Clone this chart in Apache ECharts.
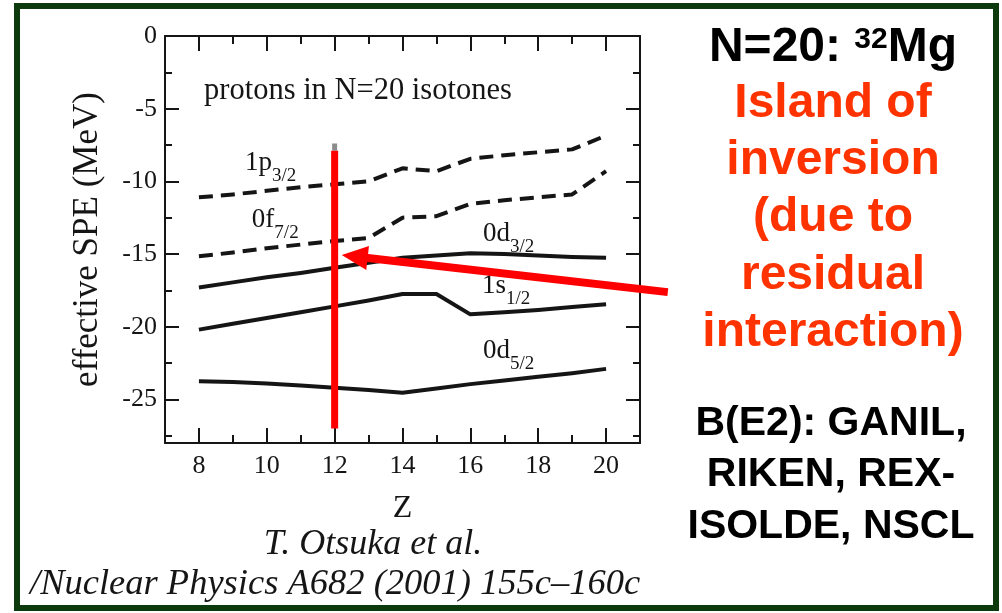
<!DOCTYPE html>
<html>
<head>
<meta charset="utf-8">
<script src="https://cdn.jsdelivr.net/npm/echarts@6/dist/echarts.min.js"></script>
<style>
  html, body { margin: 0; padding: 0; background: #fff; }
  #c { width: 1002px; height: 613px; }
</style>
</head>
<body>
<div id="c"></div>
<script>
// Proton effective single-particle energies (MeV) for N=20 isotones, by Z
const Z = [8, 9, 10, 11, 12, 13, 14, 15, 16, 17, 18, 19, 20];
const p3_2 = [-11.1, -10.9, -10.65, -10.4, -10.2, -10.0, -9.1, -9.3, -8.45, -8.2, -8.0, -7.8, -6.85];
const f7_2 = [-15.15, -14.9, -14.6, -14.35, -14.1, -13.9, -12.5, -12.4, -11.55, -11.3, -11.1, -10.9, -9.3];
const d3_2 = [-17.3, -16.95, -16.6, -16.3, -15.95, -15.6, -15.25, -15.1, -14.95, -15.0, -15.1, -15.2, -15.25];
const s1_2 = [-20.2, -19.8, -19.4, -19.0, -18.6, -18.2, -17.75, -17.75, -19.15, -19.0, -18.85, -18.65, -18.45];
const d5_2 = [-23.75, -23.8, -23.9, -24.05, -24.2, -24.35, -24.55, -24.25, -23.95, -23.7, -23.45, -23.2, -22.9];

// Axis ticks
const xMajor = [8, 10, 12, 14, 16, 18, 20];
const xMinor = [9, 11, 13, 15, 17, 19];
const yMajor = [0, -5, -10, -15, -20, -25];
const yMinor = [-2.5, -7.5, -12.5, -17.5, -22.5, -27.5];

// 32Mg (Z=12) marker and the arrow pointing at its 0d3/2 level
const mgZ = 12;
const mgSpan = [-7.9, -27.0];
const mgCap = [-7.4, -7.9];
const arrowTip = [12.21, -15.07];
const arrowTail = [21.82, -17.62];

const serif = '"Liberation Serif", "Times New Roman", serif';
const sans = '"Liberation Sans", Arial, sans-serif';
const ink = '#151515';

const chart = echarts.init(document.getElementById('c'), null, { renderer: 'canvas' });

const pts = ys => Z.map((z, i) => [z, ys[i]]);

function xAx(position, ticks, len, labelled) {
  return {
    type: 'value', min: 7, max: 21, position,
    axisLine: { show: len > 10, onZero: false, lineStyle: { color: ink, width: 2 } },
    axisTick: { show: true, inside: true, length: len, customValues: ticks, lineStyle: { color: ink, width: 2 } },
    axisLabel: labelled
      ? { show: true, customValues: ticks, fontFamily: serif, fontSize: 26, color: ink, margin: 10 }
      : { show: false },
    splitLine: { show: false },
    ...(labelled ? {
      name: 'Z', nameLocation: 'middle', nameGap: 50,
      nameTextStyle: { fontFamily: serif, fontSize: 32, color: ink }
    } : {})
  };
}
function yAx(position, ticks, len, labelled) {
  return {
    type: 'value', min: -28, max: 0, position,
    axisLine: { show: len > 10, onZero: false, lineStyle: { color: ink, width: 2 } },
    axisTick: { show: true, inside: true, length: len, customValues: ticks, lineStyle: { color: ink, width: 2 } },
    axisLabel: labelled
      ? { show: true, customValues: ticks, fontFamily: serif, fontSize: 26, color: ink, margin: 8 }
      : { show: false },
    splitLine: { show: false },
    ...(labelled ? {
      name: 'effective SPE (MeV)', nameLocation: 'middle', nameGap: 60, nameRotate: 90,
      nameTextStyle: { fontFamily: serif, fontSize: 35, color: ink }
    } : {})
  };
}

function level(name, ys, dashed) {
  return {
    name, type: 'line', xAxisIndex: 0, yAxisIndex: 0,
    data: pts(ys), symbol: 'none', showSymbol: false, silent: true,
    lineStyle: { color: ink, width: 4, type: dashed ? [14, 8] : 'solid', cap: 'butt', join: 'round' },
    z: 3
  };
}

chart.setOption({
  animation: false,
  backgroundColor: '#ffffff',
  grid: { left: 165, top: 36, width: 475, height: 407, containLabel: false },
  xAxis: [xAx('bottom', xMajor, 15, true), xAx('bottom', xMinor, 8, false),
          xAx('top', xMajor, 15, false), xAx('top', xMinor, 8, false)],
  yAxis: [yAx('left', yMajor, 14, true), yAx('left', yMinor, 7, false),
          yAx('right', yMajor, 14, false), yAx('right', yMinor, 7, false)],
  series: [
    level('1p3/2', p3_2, true),
    level('0f7/2', f7_2, true),
    level('0d3/2', d3_2, false),
    level('1s1/2', s1_2, false),
    level('0d5/2', d5_2, false),
    {
      name: 'Mg cap', type: 'line', xAxisIndex: 0, yAxisIndex: 0, symbol: 'none', silent: true,
      data: mgCap.map(v => [mgZ, v]), lineStyle: { color: '#8c8c8c', width: 5, cap: 'butt' }, z: 5
    },
    {
      name: '32Mg', type: 'line', xAxisIndex: 0, yAxisIndex: 0, symbol: 'none', silent: true,
      data: mgSpan.map(v => [mgZ, v]), lineStyle: { color: '#ff0000', width: 7, cap: 'butt' }, z: 5
    }
  ]
});

// ---- annotations -------------------------------------------------------
const measure = (() => {
  const ctx = document.createElement('canvas').getContext('2d');
  return (txt, font) => { ctx.font = font; return ctx.measureText(txt).width; };
})();
const px = d => chart.convertToPixel({ xAxisIndex: 0, yAxisIndex: 0 }, d);

const g = [];

// outer frame
g.push({
  type: 'rect', shape: { x: 17, y: 6, width: 979, height: 602 },
  style: { fill: 'none', stroke: '#0c3a0c', lineWidth: 6 }, z: 10
});

// orbital labels with subscripts, anchored in data coordinates
const orbitals = [
  ['1p', '3/2', [9.36, -8.72]],
  ['0f', '7/2', [9.56, -12.66]],
  ['0d', '3/2', [16.37, -13.59]],
  ['1s', '1/2', [16.34, -17.21]],
  ['0d', '5/2', [16.37, -21.69]]
];
orbitals.forEach(([main, sub, at]) => {
  const p = px(at);
  const mainFont = '27px ' + serif;
  const w = measure(main, mainFont);
  g.push({
    type: 'text', x: p[0], y: p[1], z: 6,
    style: { text: main, font: mainFont, fill: ink, align: 'left', verticalAlign: 'middle' }
  });
  g.push({
    type: 'text', x: p[0] + w, y: p[1] + 13, z: 6,
    style: { text: sub, font: '19px ' + serif, fill: ink, align: 'left', verticalAlign: 'middle' }
  });
});
{
  const p = px([8.15, -3.76]);
  g.push({
    type: 'text', x: p[0], y: p[1], z: 6,
    style: { text: 'protons in N=20 isotones', font: '30.5px ' + serif, fill: ink, align: 'left', verticalAlign: 'middle' }
  });
}

// arrow toward the 0d3/2 level at Z=12
{
  const tip = px(arrowTip), tail = px(arrowTail);
  const dx = tip[0] - tail[0], dy = tip[1] - tail[1];
  const L = Math.hypot(dx, dy), ux = dx / L, uy = dy / L;
  const headLen = 26, headHalf = 12;
  const bx = tip[0] - ux * headLen, by = tip[1] - uy * headLen;
  g.push({
    type: 'line', z: 7,
    shape: { x1: tail[0], y1: tail[1], x2: bx + ux * 2, y2: by + uy * 2 },
    style: { stroke: '#ff0000', lineWidth: 8, lineCap: 'butt' }
  });
  g.push({
    type: 'polygon', z: 7,
    shape: { points: [tip, [bx - uy * headHalf, by + ux * headHalf], [bx + uy * headHalf, by - ux * headHalf]] },
    style: { fill: '#ff0000' }
  });
}

// citation under the plot
g.push({
  type: 'text', x: 373, y: 545, z: 6,
  style: { text: 'T. Otsuka et al.', font: 'italic 36px ' + serif, fill: ink, align: 'center', verticalAlign: 'middle' }
});
g.push({
  type: 'text', x: 30, y: 584, z: 6,
  style: { text: '/Nuclear Physics A682 (2001) 155c\u2013160c', font: 'italic 36.5px ' + serif, fill: ink, align: 'left', verticalAlign: 'middle' }
});

// right-hand text block
{
  const cx = 833;
  const bigFont = 'bold 48px ' + sans;
  const supFont = 'bold 30px ' + sans;
  const a = 'N=20: ', s = '32', b = 'Mg';
  const wa = measure(a, bigFont), ws = measure(s, supFont), wb = measure(b, bigFont);
  const x0 = cx - (wa + ws + wb) / 2;
  g.push({ type: 'text', x: x0, y: 48, z: 6, style: { text: a, font: bigFont, fill: '#000', align: 'left', verticalAlign: 'middle' } });
  g.push({ type: 'text', x: x0 + wa, y: 40, z: 6, style: { text: s, font: supFont, fill: '#000', align: 'left', verticalAlign: 'middle' } });
  g.push({ type: 'text', x: x0 + wa + ws, y: 48, z: 6, style: { text: b, font: bigFont, fill: '#000', align: 'left', verticalAlign: 'middle' } });

  const redLines = ['Island of', 'inversion', '(due to', 'residual', 'interaction)'];
  const redY = [104, 161, 218, 276, 333];
  redLines.forEach((t, i) => g.push({
    type: 'text', x: cx, y: redY[i], z: 6,
    style: { text: t, font: bigFont, fill: '#ff3300', align: 'center', verticalAlign: 'middle' }
  }));

  const labs = ['B(E2): GANIL,', 'RIKEN, REX-', 'ISOLDE, NSCL'];
  const labY = [424, 475, 527];
  labs.forEach((t, i) => g.push({
    type: 'text', x: 831, y: labY[i], z: 6,
    style: { text: t, font: 'bold 41px ' + sans, fill: '#000', align: 'center', verticalAlign: 'middle' }
  }));
}

chart.setOption({ graphic: g });
</script>
</body>
</html>
